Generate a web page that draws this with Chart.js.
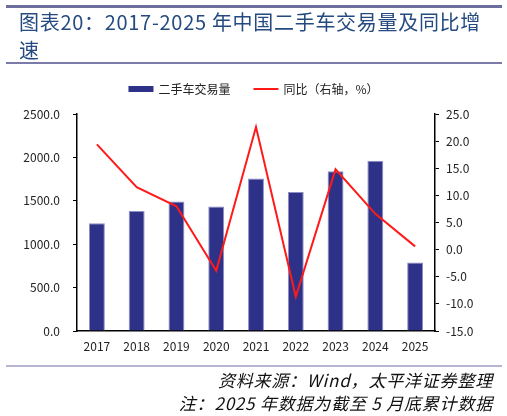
<!DOCTYPE html>
<html>
<head>
<meta charset="utf-8">
<script src="https://cdn.jsdelivr.net/npm/chart.js@4"></script>
<style>
  html, body { margin: 0; padding: 0; background: #fff; }
  #wrap { position: relative; width: 507px; height: 416px; overflow: hidden; }
  #chart { position: absolute; left: 0; top: 0; }
  .rule { position: absolute; left: 6px; width: 496px; }
  #title { position: absolute; left: 19px; top: 8px; font-family: "Noto Sans CJK SC", sans-serif; font-size: 20px; letter-spacing: 0.7px; line-height: 28px; color: #244A80; white-space: nowrap; }
  .src { position: absolute; right: 14px; font-family: "Noto Sans CJK SC", sans-serif; font-style: italic; font-size: 17px; letter-spacing: 0.8px; line-height: 22px; color: #111; white-space: nowrap; }
</style>
</head>
<body>
<div id="wrap">
  <canvas id="chart" width="507" height="416"></canvas>
  <div class="rule" style="top:5px;height:3px;background:#6D6E9E;"></div>
  <div id="title">图表20：2017-2025 年中国二手车交易量及同比增<br>速</div>
  <div class="rule" style="top:62px;height:1.5px;background:#7A7BA8;"></div>
  <div class="rule" style="top:365px;height:2px;background:#B6B6D4;"></div>
  <div class="src" style="top:369px;">资料来源：Wind，太平洋证券整理</div>
  <div class="src" style="top:392px;">注：2025 年数据为截至 5 月底累计数据</div>
</div>
<script>
const years = ['2017', '2018', '2019', '2020', '2021', '2022', '2023', '2024', '2025'];
const volume = [1240, 1382, 1492, 1434, 1758, 1602, 1841, 1961, 790];
const yoy = [19.4, 11.5, 8.0, -3.9, 22.6, -8.7, 14.8, 6.6, 0.6];
const volumeLabel = '二手车交易量';
const yoyLabel = '同比（右轴，%）';
const leftAxis = { min: 0, max: 2500, step: 500 };
const rightAxis = { min: -15, max: 25, step: 5 };

const BAR_COLOR = '#2E3188';
const LINE_COLOR = '#FF1A1A';
const FONT = '"Noto Sans CJK SC", sans-serif';

const legendPlugin = {
  id: 'customLegend',
  afterDraw(chart) {
    const ctx = chart.ctx;
    ctx.save();
    ctx.font = '12px ' + FONT;
    ctx.textBaseline = 'middle';
    ctx.fillStyle = '#222';
    const y = 89;
    const boxW = 25, gap = 5, itemGap = 23;
    const items = chart.data.datasets.slice().sort((a, b) => (a.legendIndex - b.legendIndex));
    let total = 0;
    items.forEach((d, i) => { total += boxW + gap + ctx.measureText(d.label).width + (i ? itemGap : 0); });
    let x = (chart.width - total) / 2;
    items.forEach((d, i) => {
      if (i) x += itemGap;
      if (d.type === 'bar') {
        ctx.fillStyle = d.backgroundColor;
        ctx.fillRect(x, y - 3, boxW, 6);
      } else {
        ctx.strokeStyle = d.borderColor;
        ctx.lineWidth = 2;
        ctx.beginPath(); ctx.moveTo(x, y); ctx.lineTo(x + boxW, y); ctx.stroke();
      }
      x += boxW + gap;
      ctx.fillStyle = '#222';
      ctx.textAlign = 'left';
      ctx.fillText(d.label, x, y);
      x += ctx.measureText(d.label).width;
    });
    ctx.restore();
  }
};

new Chart(document.getElementById('chart'), {
  data: {
    labels: years,
    datasets: [
      {
        type: 'line', label: yoyLabel, data: yoy, yAxisID: 'y1', order: 0, legendIndex: 1,
        borderColor: LINE_COLOR, backgroundColor: LINE_COLOR, borderWidth: 2,
        pointRadius: 0, tension: 0
      },
      {
        type: 'bar', label: volumeLabel, data: volume, yAxisID: 'y', order: 1, legendIndex: 0,
        backgroundColor: BAR_COLOR, borderColor: '#8C8EC4', borderWidth: 1,
        barPercentage: 0.4, categoryPercentage: 1
      }
    ]
  },
  options: {
    responsive: false,
    animation: false,
    devicePixelRatio: 1,
    layout: { padding: { top: 114, bottom: 55, left: 0, right: 0 } },
    plugins: { legend: { display: false }, tooltip: { enabled: false } },
    scales: {
      x: {
        offset: true,
        grid: { drawOnChartArea: false, drawTicks: false },
        border: { color: '#000', width: 1.5 },
        ticks: { padding: 8, color: '#222', font: { family: FONT, size: 12 } },
        afterFit(s) { s.height = 30; }
      },
      y: {
        position: 'left',
        min: leftAxis.min, max: leftAxis.max,
        grid: { drawOnChartArea: false, drawTicks: true, tickLength: 4, tickColor: '#000' },
        border: { color: '#000', width: 1.5 },
        ticks: { stepSize: leftAxis.step, padding: 13, color: '#222', font: { family: FONT, size: 12 },
                 callback: v => Number(v).toFixed(1) },
        afterFit(s) { s.width = 77; }
      },
      y1: {
        position: 'right',
        min: rightAxis.min, max: rightAxis.max,
        grid: { drawOnChartArea: false, drawTicks: true, tickLength: 4, tickColor: '#000' },
        border: { color: '#000', width: 1.5 },
        ticks: { stepSize: rightAxis.step, padding: 7, color: '#222', font: { family: FONT, size: 12 },
                 callback: v => Number(v).toFixed(1) },
        afterFit(s) { s.width = 72; }
      }
    }
  },
  plugins: [legendPlugin]
});
</script>
</body>
</html>
